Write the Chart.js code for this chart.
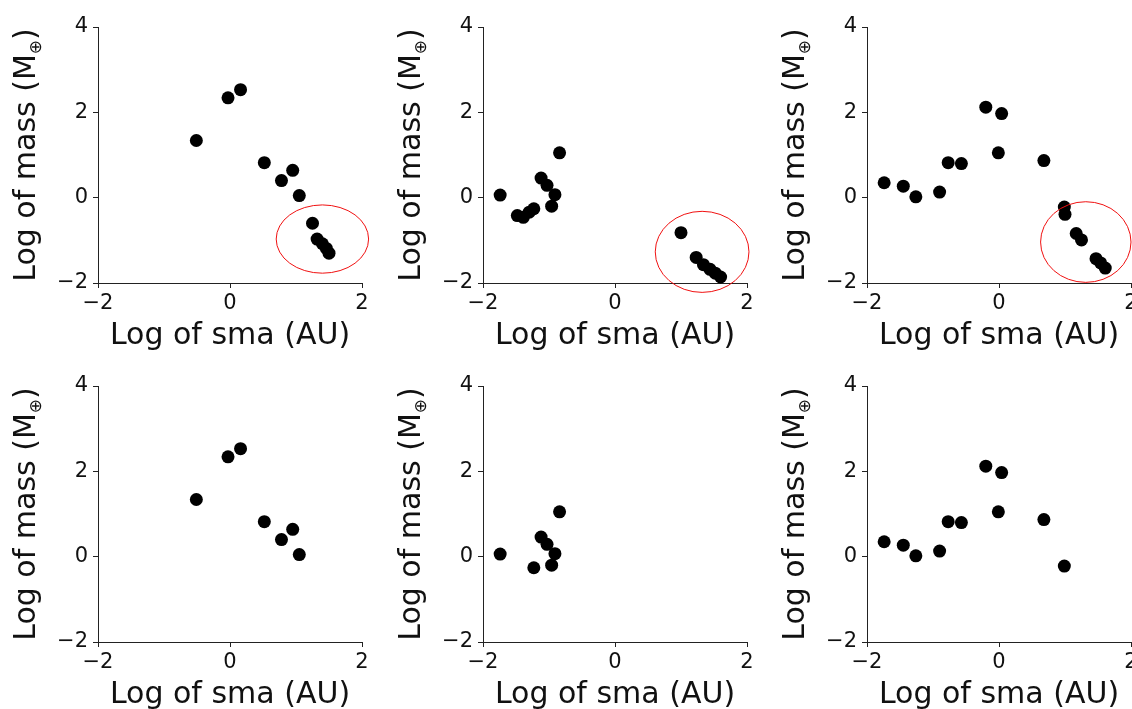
<!DOCTYPE html>
<html>
<head>
<meta charset="utf-8">
<script src="https://cdn.jsdelivr.net/npm/chart.js@4/dist/chart.umd.min.js"></script>
<style>
  html, body { margin: 0; padding: 0; background: #fff; }
  body { width: 1132px; height: 709px; overflow: hidden; position: relative; }
  .panel { position: absolute; width: 385px; height: 359px; }
</style>
</head>
<body>
<div class="panel" style="left:0px;top:0px"><canvas id="c1" width="385" height="359"></canvas></div>
<div class="panel" style="left:385px;top:0px"><canvas id="c2" width="385" height="359"></canvas></div>
<div class="panel" style="left:769px;top:0px"><canvas id="c3" width="385" height="359"></canvas></div>
<div class="panel" style="left:0px;top:359px"><canvas id="c4" width="385" height="359"></canvas></div>
<div class="panel" style="left:385px;top:359px"><canvas id="c5" width="385" height="359"></canvas></div>
<div class="panel" style="left:769px;top:359px"><canvas id="c6" width="385" height="359"></canvas></div>
<script>
/* global Chart */

// tick values
const xTicks = [-2, 0, 2];
const yTicks = [-2, 0, 2, 4];

// top row: all planets (log sma, log mass)
const sma1 = [-0.51, -0.03, 0.16, 0.52, 0.95, 0.78, 1.05, 1.25, 1.32, 1.40, 1.46, 1.50];
const mass1 = [1.34, 2.34, 2.53, 0.82, 0.64, 0.40, 0.05, -0.60, -0.97, -1.08, -1.19, -1.30];

const sma2 = [-1.74, -1.48, -1.39, -1.30, -1.23, -1.12, -1.03, -0.91, -0.96, -0.84, 1.0, 1.23, 1.34, 1.44, 1.52, 1.60];
const mass2 = [0.06, -0.42, -0.46, -0.34, -0.26, 0.46, 0.29, 0.07, -0.20, 1.05, -0.82, -1.40, -1.57, -1.68, -1.77, -1.86];

const sma3 = [-1.74, -1.45, -1.26, -0.90, -0.77, -0.57, -0.20, 0.04, -0.01, 0.68, 0.99, 1.0, 1.17, 1.25, 1.47, 1.54, 1.61];
const mass3 = [0.35, 0.27, 0.02, 0.13, 0.82, 0.80, 2.12, 1.97, 1.05, 0.87, -0.22, -0.39, -0.84, -0.99, -1.43, -1.53, -1.65];

// bottom row: what is left
const sma4 = [-0.51, -0.03, 0.16, 0.52, 0.95, 0.78, 1.05];
const mass4 = [1.34, 2.34, 2.53, 0.82, 0.64, 0.40, 0.05];

const sma5 = [-1.74, -1.23, -1.12, -1.03, -0.91, -0.96, -0.84];
const mass5 = [0.06, -0.26, 0.46, 0.29, 0.07, -0.20, 1.05];

const sma6 = [-1.74, -1.45, -1.26, -0.90, -0.77, -0.57, -0.20, 0.04, -0.01, 0.68, 0.99];
const mass6 = [0.35, 0.27, 0.02, 0.13, 0.82, 0.80, 2.12, 1.97, 1.05, 0.87, -0.22];

// red rings on the top row, in data units (centre sma, centre mass, half width, half height)
const ring1 = [1.40, -0.97, 0.70, 0.80];
const ring2 = [1.32, -1.27, 0.71, 0.95];
const ring3 = [1.315, -1.04, 0.685, 0.945];

function fmt(v) {
  return v < 0 ? "\u2212" + Math.abs(v) : String(v);
}

const ringPlugin = {
  id: "ring",
  afterDatasetsDraw(chart, args, opts) {
    if (!opts.ring) return;
    const r = opts.ring;
    const xs = chart.scales.x, ys = chart.scales.y;
    const cx = xs.getPixelForValue(r[0]);
    const cy = ys.getPixelForValue(r[1]);
    const rx = Math.abs(xs.getPixelForValue(r[0] + r[2]) - cx);
    const ry = Math.abs(ys.getPixelForValue(r[1] + r[3]) - cy);
    const ctx = chart.ctx;
    ctx.save();
    ctx.strokeStyle = "#f01010";
    ctx.lineWidth = 1;
    ctx.beginPath();
    ctx.ellipse(cx, cy, rx, ry, 0, 0, Math.PI * 2);
    ctx.stroke();
    ctx.restore();
  },
};

// y title with the subscript earth symbol
const yTitlePlugin = {
  id: "yTitle",
  afterDraw(chart) {
    const ctx = chart.ctx;
    const a = chart.chartArea;
    const big = "30px 'DejaVu Sans'";
    const small = "17px 'DejaVu Sans'";
    const p1 = "Log of mass (M", p2 = "\u2295", p3 = ")";
    ctx.save();
    ctx.translate(a.left - 63, (a.top + a.bottom) / 2);
    ctx.rotate(-Math.PI / 2);
    ctx.fillStyle = "#111";
    ctx.textBaseline = "alphabetic";
    ctx.textAlign = "left";
    ctx.font = big;
    const w1 = ctx.measureText(p1).width;
    const w3 = ctx.measureText(p3).width;
    ctx.font = small;
    const w2 = ctx.measureText(p2).width;
    let x = -(w1 + w2 + w3) / 2;
    ctx.font = big;
    ctx.fillText(p1, x, 0);
    x += w1;
    ctx.font = small;
    ctx.fillText(p2, x, 6);
    x += w2;
    ctx.font = big;
    ctx.fillText(p3, x, 0);
    ctx.restore();
  },
};

function makeChart(id, sma, mass, ring) {
  var ctx = document.getElementById(id).getContext("2d");
  var points = sma.map(function (x, i) {
    return { x: x, y: mass[i] };
  });
  return new Chart(ctx, {
    type: "scatter",
    data: {
      datasets: [
        {
          data: points,
          backgroundColor: "#000",
          borderColor: "#000",
          pointRadius: 6.5,
          pointHoverRadius: 6.5,
          pointBorderWidth: 0,
          clip: false,
        },
      ],
    },
    options: {
      responsive: false,
      animation: false,
      events: [],
      layout: { padding: { left: 0, top: 27, right: 23, bottom: 0 } },
      plugins: {
        legend: { display: false },
        tooltip: { enabled: false },
        ring: { ring: ring },
      },
      scales: {
        x: {
          type: "linear",
          min: xTicks[0],
          max: xTicks[xTicks.length - 1],
          afterBuildTicks: function (s) {
            s.ticks = xTicks.map(function (v) { return { value: v }; });
          },
          afterFit: function (s) {
            s.height = 76;
          },
          ticks: {
            font: { family: "DejaVu Sans", size: 21 },
            color: "#111",
            padding: 3,
            maxRotation: 0,
            autoSkip: false,
            callback: fmt,
          },
          grid: { drawOnChartArea: false, tickLength: 5, color: "#222" },
          border: { color: "#222", width: 1 },
          title: {
            display: true,
            text: "Log of sma (AU)",
            font: { family: "DejaVu Sans", size: 30 },
            color: "#111",
            padding: { top: 0, bottom: 5 },
          },
        },
        y: {
          type: "linear",
          min: yTicks[0],
          max: yTicks[yTicks.length - 1],
          afterBuildTicks: function (s) {
            s.ticks = yTicks.map(function (v) { return { value: v }; });
          },
          afterFit: function (s) {
            s.width = 98;
          },
          ticks: {
            font: { family: "DejaVu Sans", size: 21 },
            color: "#111",
            padding: 5,
            autoSkip: false,
            callback: fmt,
          },
          grid: { drawOnChartArea: false, tickLength: 5, color: "#222" },
          border: { color: "#222", width: 1 },
          title: { display: false },
        },
      },
    },
    plugins: [ringPlugin, yTitlePlugin],
  });
}

makeChart("c1", sma1, mass1, ring1);
makeChart("c2", sma2, mass2, ring2);
makeChart("c3", sma3, mass3, ring3);
makeChart("c4", sma4, mass4, null);
makeChart("c5", sma5, mass5, null);
makeChart("c6", sma6, mass6, null);
</script>
</body>
</html>
